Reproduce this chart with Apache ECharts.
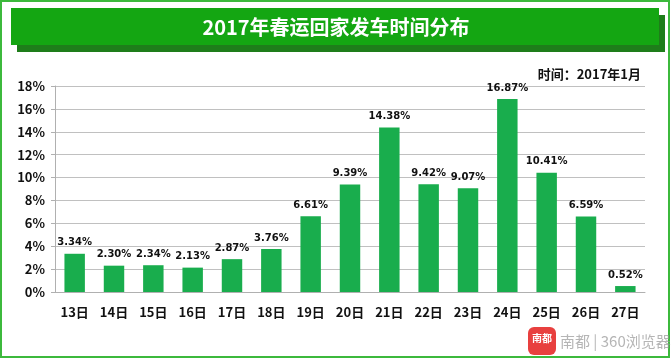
<!DOCTYPE html>
<html><head><meta charset="utf-8">
<script src="https://cdn.jsdelivr.net/npm/echarts@6/dist/echarts.min.js"></script>
<style>html,body{margin:0;padding:0;background:#fff}#c{width:672px;height:360px}</style>
</head><body><div id="c"></div>
<script>
var categories = ['13日','14日','15日','16日','17日','18日','19日','20日','21日','22日','23日','24日','25日','26日','27日'];
var shares = [3.34,2.30,2.34,2.13,2.87,3.76,6.61,9.39,14.38,9.42,9.07,16.87,10.41,6.59,0.52];
var titleText = '2017年春运回家发车时间分布';
var subText = '时间：2017年1月';
var FONT = '"Noto Sans CJK SC","Microsoft YaHei",sans-serif';
var chart = echarts.init(document.getElementById('c'));
chart.setOption({
  animation:false,
  graphic:[
    {type:'rect',shape:{x:1,y:1,width:668,height:356},style:{fill:'none',stroke:'#3cb93c',lineWidth:2},z:-1},
    {type:'rect',shape:{x:17,y:15,width:648,height:37},style:{fill:'#1e7d1a'},z:0},
    {type:'rect',shape:{x:11,y:8,width:648,height:37},style:{fill:'#14a612'},z:1},
    {type:'text',x:336,y:27,style:{text:titleText,fill:'#fff',font:'bold 20px '+FONT,align:'center',verticalAlign:'middle'},z:2},
    {type:'text',x:641,y:74,style:{text:subText,fill:'#111',font:'bold 13px '+FONT,align:'right',verticalAlign:'middle'},z:2},
    {type:'rect',shape:{x:528,y:327,width:28,height:28,r:6},style:{fill:'#e8403f'},z:2},
    {type:'text',x:542,y:338,style:{text:'南都',fill:'#fff',font:'bold 10px '+FONT,align:'center',verticalAlign:'middle'},z:3},
    {type:'text',x:560,y:341,style:{text:'南都 | 360浏览器',fill:'rgba(150,150,150,0.7)',font:'15px '+FONT,align:'left',verticalAlign:'middle'},z:2}
  ],
  grid:{left:55,right:27,top:86,bottom:68},
  xAxis:{type:'category',data:categories,
    axisLine:{lineStyle:{color:'#b0b0b0'}},axisTick:{show:false},
    axisLabel:{color:'#111',fontWeight:'bold',fontSize:13,fontFamily:FONT,margin:14}},
  yAxis:{type:'value',min:0,max:18,interval:2,
    axisLine:{show:true,lineStyle:{color:'#b0b0b0'}},
    axisTick:{show:true,length:4,lineStyle:{color:'#b0b0b0'}},
    splitLine:{lineStyle:{color:'#c0c0c0'}},
    axisLabel:{formatter:'{value}%',color:'#111',fontWeight:'bold',fontSize:13,fontFamily:FONT,margin:10}},
  series:[{type:'bar',data:shares,barWidth:'52%',
    itemStyle:{color:'#19ad4d'},
    label:{show:true,position:'top',formatter:function(p){return p.value.toFixed(2)+'%';},
      color:'#111',fontWeight:'bold',fontSize:10,fontFamily:'"DejaVu Sans",sans-serif',distance:6}}]
});
</script></body></html>
